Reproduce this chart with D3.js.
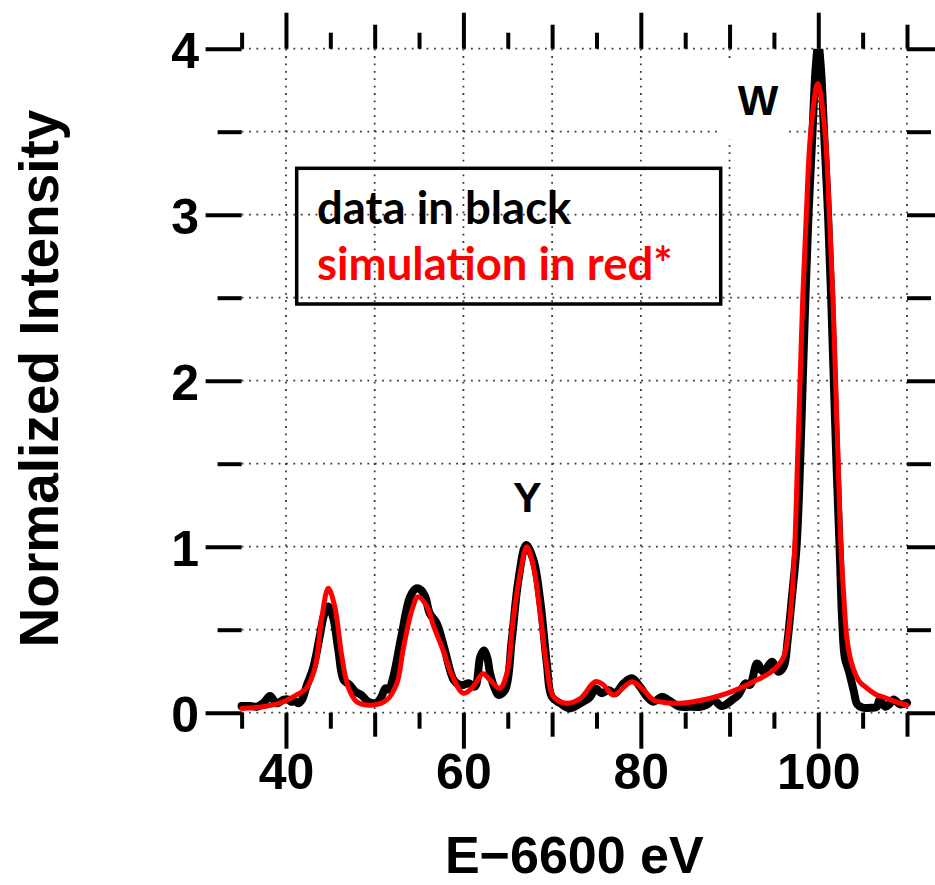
<!DOCTYPE html>
<html>
<head>
<meta charset="utf-8">
<script src="https://cdn.jsdelivr.net/npm/d3@7"></script>
<style>
  body { margin: 0; background: #fff; }
  svg { display: block; }
</style>
</head>
<body>
<svg id="chart" width="935" height="885"></svg>
<script>
// Measured spectrum (black)
const dataEnergy = [35.0, 36.0, 36.7, 37.5, 38.2, 38.95, 39.7, 40.2, 40.6, 41.0, 41.4, 41.8, 42.3, 43.1, 43.8, 44.3, 44.77, 45.3, 45.9, 46.5, 47.2, 47.8, 48.5, 49.3, 50.2, 50.8, 51.2, 51.6, 52.1, 53.0, 54.0, 54.7, 55.2, 55.7, 56.2, 57.0, 57.9, 58.9, 59.5, 60.0, 60.6, 61.3, 61.9, 62.3, 62.7, 63.0, 63.5, 63.94, 64.7, 65.45, 66.2, 67.07, 67.9, 68.65, 69.4, 69.96, 70.9, 72.0, 73.2, 74.3, 74.85, 75.6, 76.35, 77.1, 78.05, 78.99, 79.9, 80.7, 81.4, 82.4, 83.1, 84.4, 85.5, 86.7, 87.5, 88.2, 89.1, 90.3, 91.0, 91.8, 92.3, 93.1, 93.8, 94.8, 95.5, 96.1, 96.55, 97.0, 97.55, 97.95, 98.25, 98.55, 98.9, 99.35, 99.7, 100.0, 100.3, 100.65, 101.1, 101.45, 101.75, 102.05, 102.4, 102.7, 103.0, 103.5, 104.0, 104.4, 105.0, 106.0, 106.6, 106.9, 107.55, 108.0, 108.5, 109.2, 110.0];
const dataIntensity = [0.04, 0.04, 0.036, 0.06, 0.10, 0.057, 0.077, 0.08, 0.066, 0.07, 0.057, 0.077, 0.157, 0.277, 0.458, 0.59, 0.64, 0.578, 0.378, 0.197, 0.167, 0.127, 0.107, 0.066, 0.06, 0.10, 0.147, 0.14, 0.217, 0.458, 0.699, 0.749, 0.74, 0.699, 0.599, 0.538, 0.378, 0.197, 0.17, 0.167, 0.177, 0.157, 0.337, 0.375, 0.33, 0.237, 0.15, 0.107, 0.137, 0.438, 0.799, 1.01, 0.92, 0.679, 0.298, 0.096, 0.057, 0.026, 0.057, 0.096, 0.147, 0.117, 0.137, 0.117, 0.177, 0.207, 0.157, 0.096, 0.066, 0.096, 0.077, 0.036, 0.036, 0.036, 0.05, 0.077, 0.04, 0.077, 0.107, 0.177, 0.167, 0.297, 0.247, 0.307, 0.247, 0.277, 0.44, 0.68, 1.0, 1.5, 2.0, 2.5, 3.0, 3.5, 3.88, 4.03, 3.88, 3.5, 3.0, 2.5, 2.0, 1.5, 1.0, 0.55, 0.33, 0.24, 0.13, 0.05, 0.03, 0.03, 0.035, 0.077, 0.036, 0.05, 0.08, 0.05, 0.06];

// Simulated spectrum (red)
const simEnergy = [35.0, 37.4, 39.3, 41.2, 42.3, 43.3, 44.0, 44.77, 45.5, 46.3, 47.0, 47.97, 49.85, 51.36, 52.5, 53.2, 54.2, 54.9, 55.9, 56.6, 57.7, 58.7, 60.0, 61.1, 62.2, 63.0, 64.1, 64.9, 65.6, 66.4, 67.15, 67.9, 68.65, 69.4, 70.15, 71.65, 73.2, 74.85, 75.8, 76.9, 78.99, 80.3, 81.4, 82.9, 84.4, 85.9, 89.7, 92.7, 94.96, 96.1, 96.65, 97.0, 97.35, 97.65, 97.95, 98.25, 98.65, 99.15, 99.95, 100.75, 101.25, 101.65, 101.95, 102.25, 102.55, 102.9, 103.2, 103.6, 104.0, 104.6, 105.5, 106.5, 107.7, 109.0, 110.0];
const simIntensity = [0.026, 0.036, 0.057, 0.107, 0.147, 0.277, 0.558, 0.749, 0.64, 0.337, 0.157, 0.066, 0.046, 0.077, 0.177, 0.378, 0.619, 0.699, 0.639, 0.528, 0.378, 0.227, 0.117, 0.157, 0.235, 0.197, 0.147, 0.237, 0.558, 0.84, 1.0, 0.88, 0.599, 0.277, 0.096, 0.057, 0.087, 0.187, 0.167, 0.107, 0.187, 0.137, 0.077, 0.06, 0.057, 0.066, 0.117, 0.187, 0.257, 0.337, 0.5, 0.68, 1.0, 1.5, 2.0, 2.5, 3.0, 3.5, 3.79, 3.5, 3.0, 2.5, 2.0, 1.5, 1.0, 0.68, 0.46, 0.33, 0.257, 0.19, 0.147, 0.11, 0.087, 0.06, 0.045];

// Axis ticks
const xDomain = [35, 110];
const yDomain = [0, 4];
const xLongTicks = [40, 60, 80, 100];
const xMidTicks = [50, 70, 90, 110];
const xShortTicks = [35, 45, 55, 65, 75, 85, 95, 105];
const xGrid = [40, 50, 60, 70, 80, 90, 100, 110];
const yLongTicks = [0, 1, 2, 3, 4];
const yMidTicks = [0.5, 1.5, 2.5, 3.5];
const yGrid = [0, 0.5, 1, 1.5, 2, 2.5, 3, 3.5, 4];

// Annotations
const peakLabels = [
  { text: "W", energy: 93.2, level: 3.6, box: true },
  { text: "Y", energy: 67.2, level: 1.21, box: false }
];
const legendLines = [
  { text: "data in black", color: "#000" },
  { text: "simulation in red*", color: "#ff0000" }
];
const xTitle = "E\u22126600 eV";
const yTitle = "Normalized Intensity";

const svg = d3.select("#chart");
const x = d3.scaleLinear().domain(xDomain).range([241.6, 907]);
const y = d3.scaleLinear().domain(yDomain).range([712.7, 48.7]);

const tickFont = "'Liberation Sans', Arial, sans-serif";

// Dotted grid
const grid = svg.append("g")
  .attr("stroke", "#3a3a3a")
  .attr("stroke-width", 1.8)
  .attr("stroke-dasharray", "1.8 5.6");
grid.selectAll("line.v").data(xGrid).join("line")
  .attr("class", "v")
  .attr("x1", d => x(d)).attr("x2", d => x(d))
  .attr("y1", y(4)).attr("y2", y(0));
grid.selectAll("line.h").data(yGrid).join("line")
  .attr("class", "h")
  .attr("x1", x(35)).attr("x2", x(110))
  .attr("y1", d => y(d)).attr("y2", d => y(d));

// Peak labels (W sits on a white box that hides the grid behind it)
peakLabels.forEach(p => {
  const cx = x(p.energy), by = y(p.level);
  if (p.box) {
    svg.append("rect")
      .attr("x", cx - 41).attr("y", by - 56)
      .attr("width", 71).attr("height", 80)
      .attr("fill", "#fff");
  }
  svg.append("text")
    .attr("x", cx).attr("y", by)
    .attr("text-anchor", "middle")
    .attr("font-family", tickFont)
    .attr("font-weight", "bold")
    .attr("font-size", 43)
    .text(p.text);
});

// Legend
svg.append("rect")
  .attr("x", 296.7).attr("y", 168.3)
  .attr("width", 424).attr("height", 135.7)
  .attr("fill", "none")
  .attr("stroke", "#000")
  .attr("stroke-width", 3.5);
svg.selectAll("text.legend").data(legendLines).join("text")
  .attr("class", "legend")
  .attr("x", 317)
  .attr("y", (d, i) => 224 + i * 56)
  .attr("fill", d => d.color)
  .attr("font-family", "Lato, 'Open Sans', sans-serif")
  .attr("font-weight", "bold")
  .attr("font-size", 45.5)
  .text(d => d.text);

// Spectra
svg.append("clipPath").attr("id", "plotclip")
  .append("rect")
  .attr("x", x(35) - 10).attr("y", y(4))
  .attr("width", x(110) - x(35) + 20).attr("height", 885);

const line = d3.line()
  .x(d => x(d[0]))
  .y(d => y(d[1]))
  .curve(d3.curveCatmullRom.alpha(0.5));

const dataPts = dataEnergy.map((e, i) => [e, dataIntensity[i]]);
const simPts = simEnergy.map((e, i) => [e, simIntensity[i]]);

const curves = svg.append("g").attr("clip-path", "url(#plotclip)");
curves.append("path")
  .datum(dataPts)
  .attr("d", line)
  .attr("fill", "none")
  .attr("stroke", "#000")
  .attr("stroke-width", 8)
  .attr("stroke-linejoin", "round")
  .attr("stroke-linecap", "round");
curves.append("path")
  .datum(simPts)
  .attr("d", line)
  .attr("fill", "none")
  .attr("stroke", "#ff0000")
  .attr("stroke-width", 5)
  .attr("stroke-linejoin", "round")
  .attr("stroke-linecap", "round");

// Tick marks on all four sides
function addAxis(axisGen, transform, values, size, withLabels, padding) {
  const g = svg.append("g")
    .attr("transform", transform)
    .call(axisGen.tickValues(values).tickSize(size)
      .tickPadding(padding || 3)
      .tickFormat(withLabels ? d3.format("d") : () => ""));
  g.select(".domain").remove();
  g.selectAll(".tick line").attr("stroke", "#000").attr("stroke-width", 4);
  g.attr("font-family", tickFont).attr("font-size", 50).attr("font-weight", "bold");
  g.selectAll(".tick text").attr("fill", "#000");
  return g;
}

const bottomT = `translate(0,${y(0)})`;
const topT = `translate(0,${y(4)})`;
const leftT = `translate(${x(35)},0)`;
const rightT = `translate(${x(110)},0)`;

addAxis(d3.axisBottom(x), bottomT, xShortTicks, 16, false);
addAxis(d3.axisBottom(x), bottomT, xMidTicks, 24, false);
addAxis(d3.axisBottom(x), bottomT, xLongTicks, 36, true, 4.8);
addAxis(d3.axisTop(x), topT, xShortTicks, 16, false);
addAxis(d3.axisTop(x), topT, xMidTicks, 24, false);
addAxis(d3.axisTop(x), topT, xLongTicks, 36, false);

addAxis(d3.axisLeft(y), leftT, yMidTicks, 24, false);
const yl = addAxis(d3.axisLeft(y), leftT, yLongTicks, 36, true, 6.6);
yl.selectAll(".tick text").attr("dy", "0.38em");
addAxis(d3.axisRight(y), rightT, yMidTicks, 24, false);
addAxis(d3.axisRight(y), rightT, yLongTicks, 36, false);

// Axis titles
svg.append("text")
  .attr("x", (x(35) + x(110)) / 2)
  .attr("y", 873)
  .attr("text-anchor", "middle")
  .attr("font-family", tickFont)
  .attr("font-weight", "bold")
  .attr("font-size", 52)
  .text(xTitle);

svg.append("text")
  .attr("transform", `translate(58,378.5) rotate(-90)`)
  .attr("text-anchor", "middle")
  .attr("font-family", tickFont)
  .attr("font-weight", "bold")
  .attr("font-size", 55)
  .text(yTitle);
</script>
</body>
</html>
